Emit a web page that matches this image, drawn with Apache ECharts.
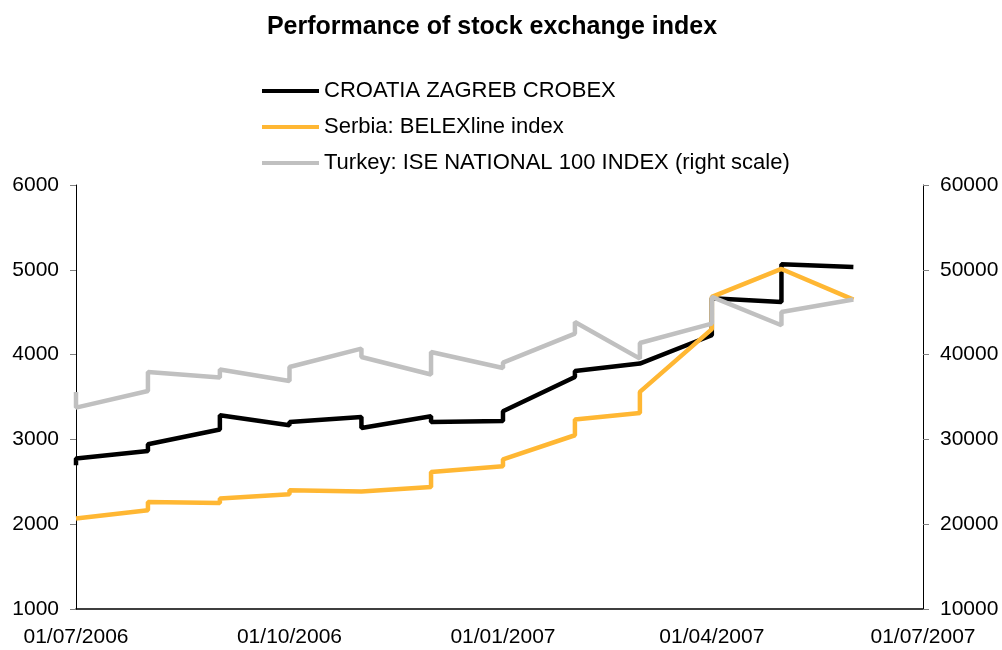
<!DOCTYPE html>
<html>
<head>
<meta charset="utf-8">
<script src="https://cdn.jsdelivr.net/npm/echarts@6/dist/echarts.min.js"></script>
<style>
  html, body { margin: 0; padding: 0; background: #fff; }
  #chart { width: 1002px; height: 650px; }
</style>
</head>
<body>
<div id="chart"></div>
<script>
// month starts appear twice: value before the jump, value after it
const dates = [
  '2006-07-01', '2006-07-01', '2006-08-01', '2006-08-01', '2006-09-01', '2006-09-01',
  '2006-10-01', '2006-10-01', '2006-11-01', '2006-11-01', '2006-12-01', '2006-12-01',
  '2007-01-01', '2007-01-01', '2007-02-01', '2007-02-01', '2007-03-01', '2007-03-01',
  '2007-04-01', '2007-04-01', '2007-05-01', '2007-05-01', '2007-06-01'
]
const crobex = [
  2695, 2774, 2864, 2943, 3116, 3285, 3167, 3206, 3265, 3135, 3273, 3206,
  3218, 3332, 3736, 3807, 3894, 3894, 4228, 4664, 4621, 5065, 5033
]
const belexline = [
  2067, 2067, 2165, 2263, 2251, 2303, 2353, 2400, 2385, 2392, 2439, 2616,
  2683, 2765, 3049, 3234, 3312, 3560, 4300, 4680, 5010, 5010, 4649
]
const ise100 = [
  35600, 33750, 35710, 37950, 37290, 38240, 36890, 38540, 40710, 39720, 37650, 40310,
  38420, 39060, 42480, 43850, 39530, 41370, 43660, 46800, 43460, 45030, 46490
]
const xTicks = ['2006-07-01', '2006-10-01', '2007-01-01', '2007-04-01', '2007-07-01']
const seriesNames = ['CROATIA ZAGREB CROBEX', 'Serbia: BELEXline index', 'Turkey: ISE NATIONAL 100 INDEX (right scale)']

const FONT = '"Liberation Sans", Arial, sans-serif'

function toTime (s) {
  const p = s.split('-')
  return Date.UTC(+p[0], +p[1] - 1, +p[2])
}
function pairs (vals) {
  return vals.map((v, i) => [toTime(dates[i]), v])
}

const yAxisBase = {
  type: 'value',
  splitLine: { show: false },
  axisLine: { show: true, lineStyle: { color: '#000', width: 1 } },
  axisTick: { show: true, length: 6, lineStyle: { color: '#808080' } },
  axisLabel: {
    color: '#000', fontSize: 21, fontFamily: FONT, margin: 17,
    formatter: function (v) { return String(v) }
  }
}

const chart = echarts.init(document.getElementById('chart'))
chart.setOption({
  animation: false,
  backgroundColor: '#fff',
  title: {
    text: 'Performance of stock exchange index',
    left: 487,
    textAlign: 'center',
    top: 10,
    textStyle: { fontSize: 25, fontWeight: 'bold', color: '#000', fontFamily: FONT }
  },
  legend: {
    orient: 'vertical',
    left: 257,
    top: 75,
    icon: 'rect',
    itemWidth: 57,
    itemHeight: 4,
    itemGap: 14,
    textStyle: { fontSize: 22, color: '#000', fontFamily: FONT },
    data: seriesNames
  },
  grid: { left: 76, right: 79, top: 185, bottom: 41 },
  xAxis: {
    type: 'value',
    min: toTime('2006-07-01'),
    max: toTime('2007-07-01'),
    splitLine: { show: false },
    axisLine: { show: true, lineStyle: { color: '#000', width: 1.5 } },
    axisTick: { show: false },
    axisLabel: {
      color: '#000',
      fontSize: 21,
      fontFamily: FONT,
      margin: 18,
      showMinLabel: true,
      showMaxLabel: true,
      customValues: xTicks.map(toTime),
      formatter: function (v) {
        const d = new Date(v)
        const dd = String(d.getUTCDate()).padStart(2, '0')
        const mm = String(d.getUTCMonth() + 1).padStart(2, '0')
        return dd + '/' + mm + '/' + d.getUTCFullYear()
      }
    }
  },
  yAxis: [
    Object.assign({}, yAxisBase, { min: 1000, max: 6000, interval: 1000, position: 'left' }),
    Object.assign({}, yAxisBase, { min: 10000, max: 60000, interval: 10000, position: 'right' })
  ],
  series: [
    {
      name: seriesNames[0],
      type: 'line',
      showSymbol: false,
      color: '#000000',
      lineStyle: { width: 4.5, color: '#000000' },
      data: pairs(crobex)
    },
    {
      name: seriesNames[1],
      type: 'line',
      showSymbol: false,
      color: '#FFB733',
      lineStyle: { width: 4.5, color: '#FFB733' },
      data: pairs(belexline)
    },
    {
      name: seriesNames[2],
      type: 'line',
      yAxisIndex: 1,
      showSymbol: false,
      color: '#C0C0C0',
      lineStyle: { width: 4.5, color: '#C0C0C0' },
      data: pairs(ise100)
    }
  ]
})
</script>
</body>
</html>
